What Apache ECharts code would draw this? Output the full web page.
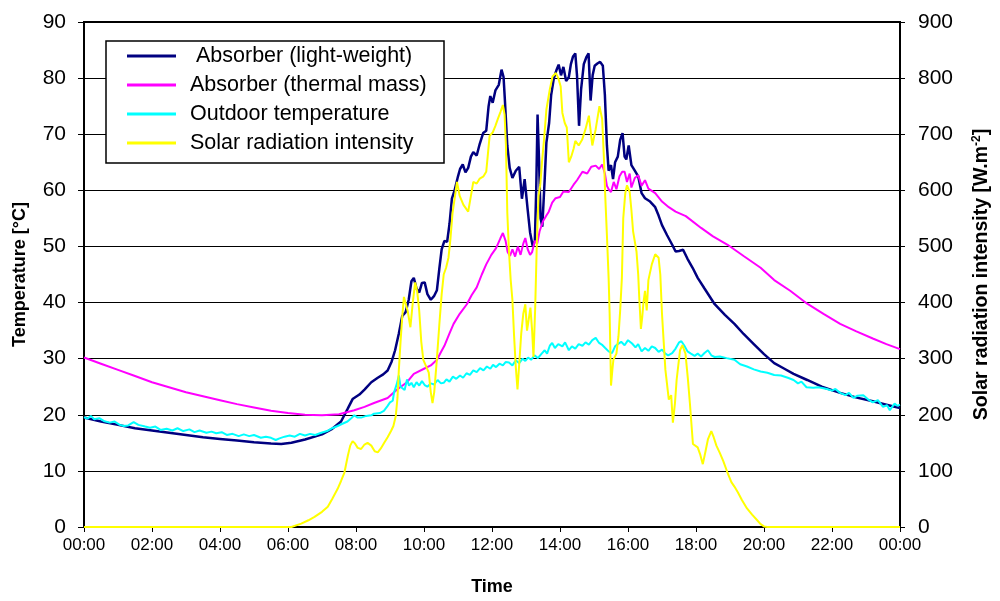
<!DOCTYPE html>
<html><head><meta charset="utf-8">
<script src="https://cdn.jsdelivr.net/npm/echarts@6/dist/echarts.min.js"></script>
<style>html,body{margin:0;padding:0;background:#fff}#c{width:1000px;height:601px}</style>
</head><body><div id="c"></div>
<script>
// x = hour of day
const xTicks = ['00:00','02:00','04:00','06:00','08:00','10:00','12:00','14:00','16:00','18:00','20:00','22:00','00:00'];
const seriesNames = [' Absorber (light-weight)', 'Absorber (thermal mass)', 'Outdoor temperature', 'Solar radiation intensity'];

const lightWeight = [[0,19.5],[0.5,18.8],[1,18.2],[1.5,17.6],[2,17.2],[2.5,16.8],[3,16.4],[3.5,16.0],[4,15.7],[4.5,15.4],[5,15.1],[5.5,14.9],[5.8,14.8],[6.1,15.0],[6.5,15.6],[7,16.5],[7.3,17.5],[7.56,18.8],[7.75,21],[7.9,22.8],[8.1,23.6],[8.25,24.5],[8.45,25.8],[8.64,26.6],[8.8,27.2],[8.93,27.9],[9.05,29.5],[9.15,31.5],[9.26,34.5],[9.36,37.6],[9.46,38.3],[9.55,40.5],[9.63,43.8],[9.7,44.4],[9.78,42.5],[9.86,41.8],[9.94,43.5],[10.02,43.6],[10.1,41.5],[10.2,40.5],[10.3,41.2],[10.38,42.2],[10.45,46],[10.52,49.5],[10.6,51],[10.68,50.8],[10.75,54],[10.82,58.5],[10.9,60],[11.0,62.5],[11.06,63.8],[11.14,64.6],[11.22,63.2],[11.3,64],[11.38,66],[11.45,66.8],[11.55,66.2],[11.64,68.3],[11.74,70.2],[11.83,70.6],[11.9,75],[11.95,76.8],[12.02,75.6],[12.1,77.8],[12.2,78.8],[12.28,81.5],[12.34,80.2],[12.38,76],[12.45,68],[12.52,64],[12.6,62.2],[12.7,63.5],[12.8,64.2],[12.88,58.5],[12.96,62],[13.05,56.5],[13.12,52.5],[13.2,50],[13.26,51],[13.3,60],[13.34,73.5],[13.38,66],[13.43,55],[13.48,53.5],[13.55,62],[13.6,68.5],[13.68,72],[13.74,77],[13.82,80],[13.9,81.5],[13.96,82.4],[14.03,80.5],[14.1,82],[14.18,79.5],[14.26,80.2],[14.32,82.5],[14.38,83.8],[14.45,84.4],[14.5,80.5],[14.56,71.5],[14.62,78],[14.7,82.5],[14.78,83.8],[14.84,84.4],[14.9,76],[14.96,80.5],[15.02,82.2],[15.1,82.6],[15.18,82.9],[15.26,82.2],[15.32,77],[15.38,68],[15.43,63.5],[15.5,64.5],[15.56,62],[15.62,65],[15.7,66],[15.77,69],[15.84,70.2],[15.9,66],[15.95,65.5],[16.02,68],[16.1,64.5],[16.2,63.5],[16.3,62.5],[16.4,59.5],[16.5,58.6],[16.65,58],[16.8,57],[16.9,55.5],[17.0,53.8],[17.15,52],[17.3,50.3],[17.4,49.1],[17.5,49.2],[17.62,49.4],[17.75,47.8],[17.9,46.2],[18.05,44.4],[18.25,42.5],[18.55,39.7],[18.85,37.8],[19.13,36.2],[19.4,34.4],[19.7,32.6],[20,30.8],[20.3,29.2],[20.6,28.2],[20.87,27.3],[21.27,26.2],[21.7,25],[22.24,23.9],[22.7,23.1],[23.2,22.4],[23.6,21.8],[24,21.2]];

const thermalMass = [[0,30.2],[0.5,29.1],[1,28.0],[1.5,26.9],[2,25.8],[2.5,24.9],[3,24.0],[3.5,23.3],[4,22.6],[4.5,21.9],[5,21.3],[5.5,20.7],[6,20.3],[6.5,20.0],[7,19.9],[7.5,20.1],[7.95,20.8],[8.25,21.4],[8.53,22.1],[8.93,23.0],[9.21,24.5],[9.5,25.8],[9.7,27.3],[10.0,28.2],[10.2,28.8],[10.38,29.8],[10.5,31.2],[10.6,32.3],[10.75,34.5],[10.87,36.2],[11.05,38],[11.26,39.7],[11.4,41.3],[11.55,42.7],[11.7,45],[11.83,46.8],[11.98,48.5],[12.12,49.7],[12.25,51.5],[12.32,52.4],[12.4,51],[12.46,49],[12.53,48.3],[12.6,49.5],[12.68,48.2],[12.76,50],[12.84,48.5],[12.92,50.5],[12.98,51.5],[13.05,49.5],[13.12,48.5],[13.18,49],[13.26,51],[13.33,50.5],[13.4,52.7],[13.5,54.5],[13.6,55.5],[13.67,56.2],[13.77,57.8],[13.87,58.6],[14,58.8],[14.1,59.8],[14.26,59.7],[14.4,61],[14.5,61.8],[14.66,63.3],[14.8,63],[14.92,64.2],[15.05,64.4],[15.15,63.8],[15.24,64.6],[15.32,63],[15.38,60.8],[15.44,60.1],[15.5,59.7],[15.58,61.5],[15.66,60.2],[15.75,62.5],[15.83,63.3],[15.9,63.3],[15.97,61.5],[16.05,63],[16.1,60.5],[16.2,62.2],[16.3,62.7],[16.4,60.8],[16.5,61.8],[16.6,60.3],[16.8,59.5],[17.0,58.0],[17.2,57],[17.4,56.2],[17.7,55.4],[18.15,53.3],[18.5,51.8],[18.93,50.3],[19.4,48.3],[19.9,46.2],[20.3,44.0],[20.77,42.1],[21.27,39.8],[21.75,38],[22.24,36.2],[22.7,34.9],[23.2,33.6],[23.6,32.6],[24,31.7]];

const outdoor = [[0,19.6],[0.1,19.3],[0.2,19.8],[0.3,19.2],[0.45,19.4],[0.58,18.9],[0.75,18.6],[0.9,18.8],[1.05,18.2],[1.17,18.0],[1.3,18.1],[1.46,18.7],[1.6,18.2],[1.8,17.9],[1.94,17.7],[2.1,17.9],[2.25,17.3],[2.43,17.5],[2.6,17.2],[2.75,17.6],[2.92,17.1],[3.1,17.4],[3.25,16.9],[3.4,17.2],[3.6,16.8],[3.75,17.0],[3.89,16.7],[4.05,16.9],[4.2,16.4],[4.37,16.6],[4.55,16.2],[4.7,16.5],[4.86,16.2],[5.0,16.4],[5.2,15.9],[5.35,16.1],[5.5,15.9],[5.64,15.5],[5.75,15.8],[5.9,16.1],[6.05,16.3],[6.2,16.1],[6.35,16.6],[6.5,16.3],[6.65,16.6],[6.8,16.4],[6.98,16.8],[7.15,17.1],[7.3,17.6],[7.46,18.0],[7.6,18.4],[7.75,18.8],[7.86,19.4],[7.95,19.9],[8.05,19.5],[8.15,19.5],[8.3,19.8],[8.45,19.9],[8.53,20.2],[8.7,20.3],[8.82,20.7],[8.92,21.5],[9.0,22.2],[9.08,22.5],[9.12,24],[9.2,25.5],[9.26,27],[9.31,25],[9.36,25.2],[9.43,24.4],[9.5,26.3],[9.56,25.2],[9.63,25.7],[9.7,24.9],[9.78,25.8],[9.86,25.2],[9.94,26],[10.02,25.3],[10.1,25.0],[10.2,25.6],[10.3,25.4],[10.4,26.2],[10.5,25.6],[10.58,25.7],[10.66,26.3],[10.75,25.9],[10.85,26.8],[10.95,26.4],[11.06,27.0],[11.15,26.6],[11.25,27.4],[11.35,27.1],[11.45,27.9],[11.55,27.6],[11.65,28.3],[11.75,27.9],[11.85,28.6],[11.95,28.2],[12.03,28.9],[12.12,28.5],[12.22,29.1],[12.32,28.8],[12.4,29.4],[12.5,29.3],[12.6,28.8],[12.7,29.7],[12.8,29.2],[12.9,30.0],[12.98,29.6],[13.06,30.2],[13.15,29.8],[13.25,30.6],[13.35,30.1],[13.46,30.9],[13.55,31.5],[13.62,30.9],[13.7,32.3],[13.77,32.8],[13.85,31.9],[13.95,32.6],[14.07,32.2],[14.15,32.9],[14.26,31.5],[14.35,32.2],[14.45,31.8],[14.55,32.6],[14.66,32.3],[14.75,32.9],[14.85,32.5],[14.95,33.3],[15.05,33.7],[15.15,32.8],[15.25,32.4],[15.33,31.9],[15.43,31.3],[15.53,31.0],[15.62,32.2],[15.7,32.6],[15.8,33.0],[15.9,32.4],[16.0,33.3],[16.12,32.7],[16.22,32.0],[16.3,32.6],[16.4,31.3],[16.5,31.9],[16.6,31.4],[16.7,32.2],[16.8,31.9],[16.9,31.2],[17.0,31.6],[17.1,30.9],[17.18,30.6],[17.3,31.0],[17.4,31.8],[17.5,32.9],[17.57,33.1],[17.65,32.4],[17.75,31.3],[17.85,30.9],[17.96,30.5],[18.05,30.9],[18.15,30.4],[18.25,31.0],[18.35,31.5],[18.45,30.6],[18.55,30.3],[18.7,30.4],[18.9,30.1],[19.13,29.8],[19.3,29.0],[19.5,28.6],[19.7,28.1],[19.9,27.7],[20.1,27.5],[20.3,27.1],[20.5,27.0],[20.7,26.6],[20.87,26.2],[21.0,25.6],[21.1,25.9],[21.25,24.9],[21.45,24.8],[21.6,24.9],[21.85,24.6],[22.0,24.3],[22.1,24.6],[22.24,23.9],[22.4,23.5],[22.5,23.9],[22.63,23.0],[22.75,23.4],[22.92,23.5],[23.05,22.8],[23.2,22.2],[23.35,22.6],[23.5,21.4],[23.62,21.7],[23.7,20.8],[23.78,21.5],[23.84,22.0],[23.92,21.6],[24,21.8]];

const solar = [[0,0],[6.1,0],[6.39,6],[6.6,12],[6.78,18],[7.0,27],[7.17,36],[7.3,50],[7.46,68],[7.56,82],[7.66,97],[7.76,127],[7.83,145],[7.9,153],[7.97,149],[8.05,141],[8.15,139],[8.25,147],[8.34,150],[8.45,145],[8.55,135],[8.64,133],[8.73,140],[8.83,150],[8.93,160],[9.03,171],[9.1,180],[9.17,198],[9.22,230],[9.26,280],[9.31,330],[9.36,375],[9.41,410],[9.46,412],[9.52,385],[9.6,356],[9.67,400],[9.74,436],[9.8,420],[9.86,385],[9.92,330],[9.98,298],[10.05,288],[10.14,275],[10.2,240],[10.25,221],[10.3,240],[10.38,300],[10.45,360],[10.52,415],[10.58,450],[10.65,462],[10.72,480],[10.78,515],[10.84,560],[10.9,585],[10.97,615],[11.05,590],[11.16,574],[11.3,562],[11.38,590],[11.45,615],[11.55,612],[11.64,621],[11.75,625],[11.83,633],[11.88,665],[11.93,697],[12.02,703],[12.1,715],[12.17,727],[12.25,740],[12.32,752],[12.37,735],[12.41,680],[12.45,560],[12.5,490],[12.55,440],[12.6,405],[12.65,340],[12.7,285],[12.75,245],[12.8,290],[12.86,345],[12.92,380],[12.98,397],[13.03,350],[13.08,370],[13.13,391],[13.18,350],[13.22,303],[13.27,390],[13.32,510],[13.37,590],[13.42,610],[13.47,650],[13.53,690],[13.6,744],[13.7,780],[13.78,803],[13.88,809],[13.95,800],[14.02,785],[14.07,738],[14.14,720],[14.2,712],[14.26,650],[14.33,660],[14.4,674],[14.45,688],[14.55,680],[14.65,690],[14.75,709],[14.85,733],[14.95,680],[15.05,709],[15.16,750],[15.24,727],[15.29,660],[15.33,591],[15.38,520],[15.43,444],[15.46,380],[15.5,252],[15.54,280],[15.57,298],[15.66,309],[15.72,340],[15.77,386],[15.82,444],[15.86,550],[15.92,595],[15.97,609],[16.05,597],[16.1,565],[16.15,527],[16.25,491],[16.3,450],[16.33,410],[16.38,353],[16.42,375],[16.45,397],[16.5,421],[16.55,386],[16.6,440],[16.7,468],[16.8,486],[16.9,480],[16.95,450],[17.0,380],[17.05,330],[17.1,280],[17.2,227],[17.27,235],[17.32,186],[17.38,220],[17.43,262],[17.53,315],[17.6,324],[17.69,309],[17.76,265],[17.82,221],[17.91,148],[18.05,142],[18.12,130],[18.2,112],[18.28,135],[18.35,156],[18.45,171],[18.52,160],[18.6,145],[18.7,132],[18.8,118],[18.92,98],[19.04,80],[19.13,72],[19.23,62],[19.35,48],[19.5,33],[19.65,22],[19.8,12],[19.9,5],[20.0,1],[20.1,0],[24,0]];

const FONT = '"Liberation Sans", Arial, sans-serif';
const chart = echarts.init(document.getElementById('c'), null, {renderer: 'canvas'});
const lineSeries = (name, data, color, width, yIdx) => ({
  name, type: 'line', data, yAxisIndex: yIdx, showSymbol: false, symbol: 'none',
  lineStyle: {color, width}, itemStyle: {color}, z: 2, animation: false
});
chart.setOption({
  backgroundColor: '#fff',
  animation: false,
  textStyle: {fontFamily: FONT},
  grid: {left: 84, right: 93, top: 22, bottom: 69, show: true, borderColor: '#000', borderWidth: 2, backgroundColor: 'transparent'},
  graphic: [{type: 'rect', z: 3, shape: {x: 106, y: 41, width: 338, height: 122}, style: {fill: '#fff', stroke: '#000', lineWidth: 1.5}}],
  legend: {
    data: seriesNames, orient: 'vertical', left: 127, top: 45, padding: 0, itemGap: 7,
    itemWidth: 49, itemHeight: 3, icon: 'rect', z: 5,
    textStyle: {fontSize: 21.5, lineHeight: 20.5, color: '#000', fontFamily: FONT, padding: [0, 0, 0, 9]}
  },
  xAxis: {
    type: 'value', min: 0, max: 24, interval: 2,
    axisLine: {show: true, lineStyle: {color: '#000', width: 2}},
    axisTick: {show: true, length: 5, lineStyle: {color: '#000', width: 1}},
    splitLine: {show: false},
    axisLabel: {fontSize: 17, color: '#000', margin: 10, fontFamily: FONT, formatter: (v) => xTicks[Math.round(v / 2)]},
    name: 'Time', nameLocation: 'middle', nameGap: 51,
    nameTextStyle: {fontSize: 18, fontWeight: 'bold', color: '#000', fontFamily: FONT}
  },
  yAxis: [{
    type: 'value', min: 0, max: 90, interval: 10, position: 'left',
    axisLine: {show: true, lineStyle: {color: '#000', width: 2}},
    axisTick: {show: true, length: 6, lineStyle: {color: '#000', width: 1}},
    splitLine: {show: true, lineStyle: {color: '#000', width: 1}},
    axisLabel: {fontSize: 21, color: '#000', margin: 18, fontFamily: FONT},
    name: 'Temperature [°C]', nameLocation: 'middle', nameRotate: 90, nameGap: 55,
    nameTextStyle: {fontSize: 18, fontWeight: 'bold', color: '#000', fontFamily: FONT}
  }, {
    type: 'value', min: 0, max: 900, interval: 100, position: 'right',
    axisLine: {show: true, lineStyle: {color: '#000', width: 2}},
    axisTick: {show: true, length: 5, lineStyle: {color: '#000', width: 1}},
    splitLine: {show: false},
    axisLabel: {fontSize: 21, color: '#000', margin: 18, fontFamily: FONT},
    name: '{a|Solar radiation intensity [W.m}{b|-2}{a|]}', nameLocation: 'middle', nameRotate: 90, nameGap: 71,
    nameTextStyle: {color: '#000', rich: {
      a: {fontSize: 19.5, fontWeight: 'bold', color: '#000', fontFamily: FONT},
      b: {fontSize: 12, fontWeight: 'bold', color: '#000', fontFamily: FONT, padding: [0, 0, 10, 0]}
    }}
  }],
  series: [
    lineSeries(seriesNames[0], lightWeight, '#000080', 2.5, 0),
    lineSeries(seriesNames[1], thermalMass, '#FF00FF', 2, 0),
    lineSeries(seriesNames[2], outdoor, '#00FFFF', 2, 0),
    lineSeries(seriesNames[3], solar, '#FFFF00', 2, 1)
  ]
});
</script></body></html>
